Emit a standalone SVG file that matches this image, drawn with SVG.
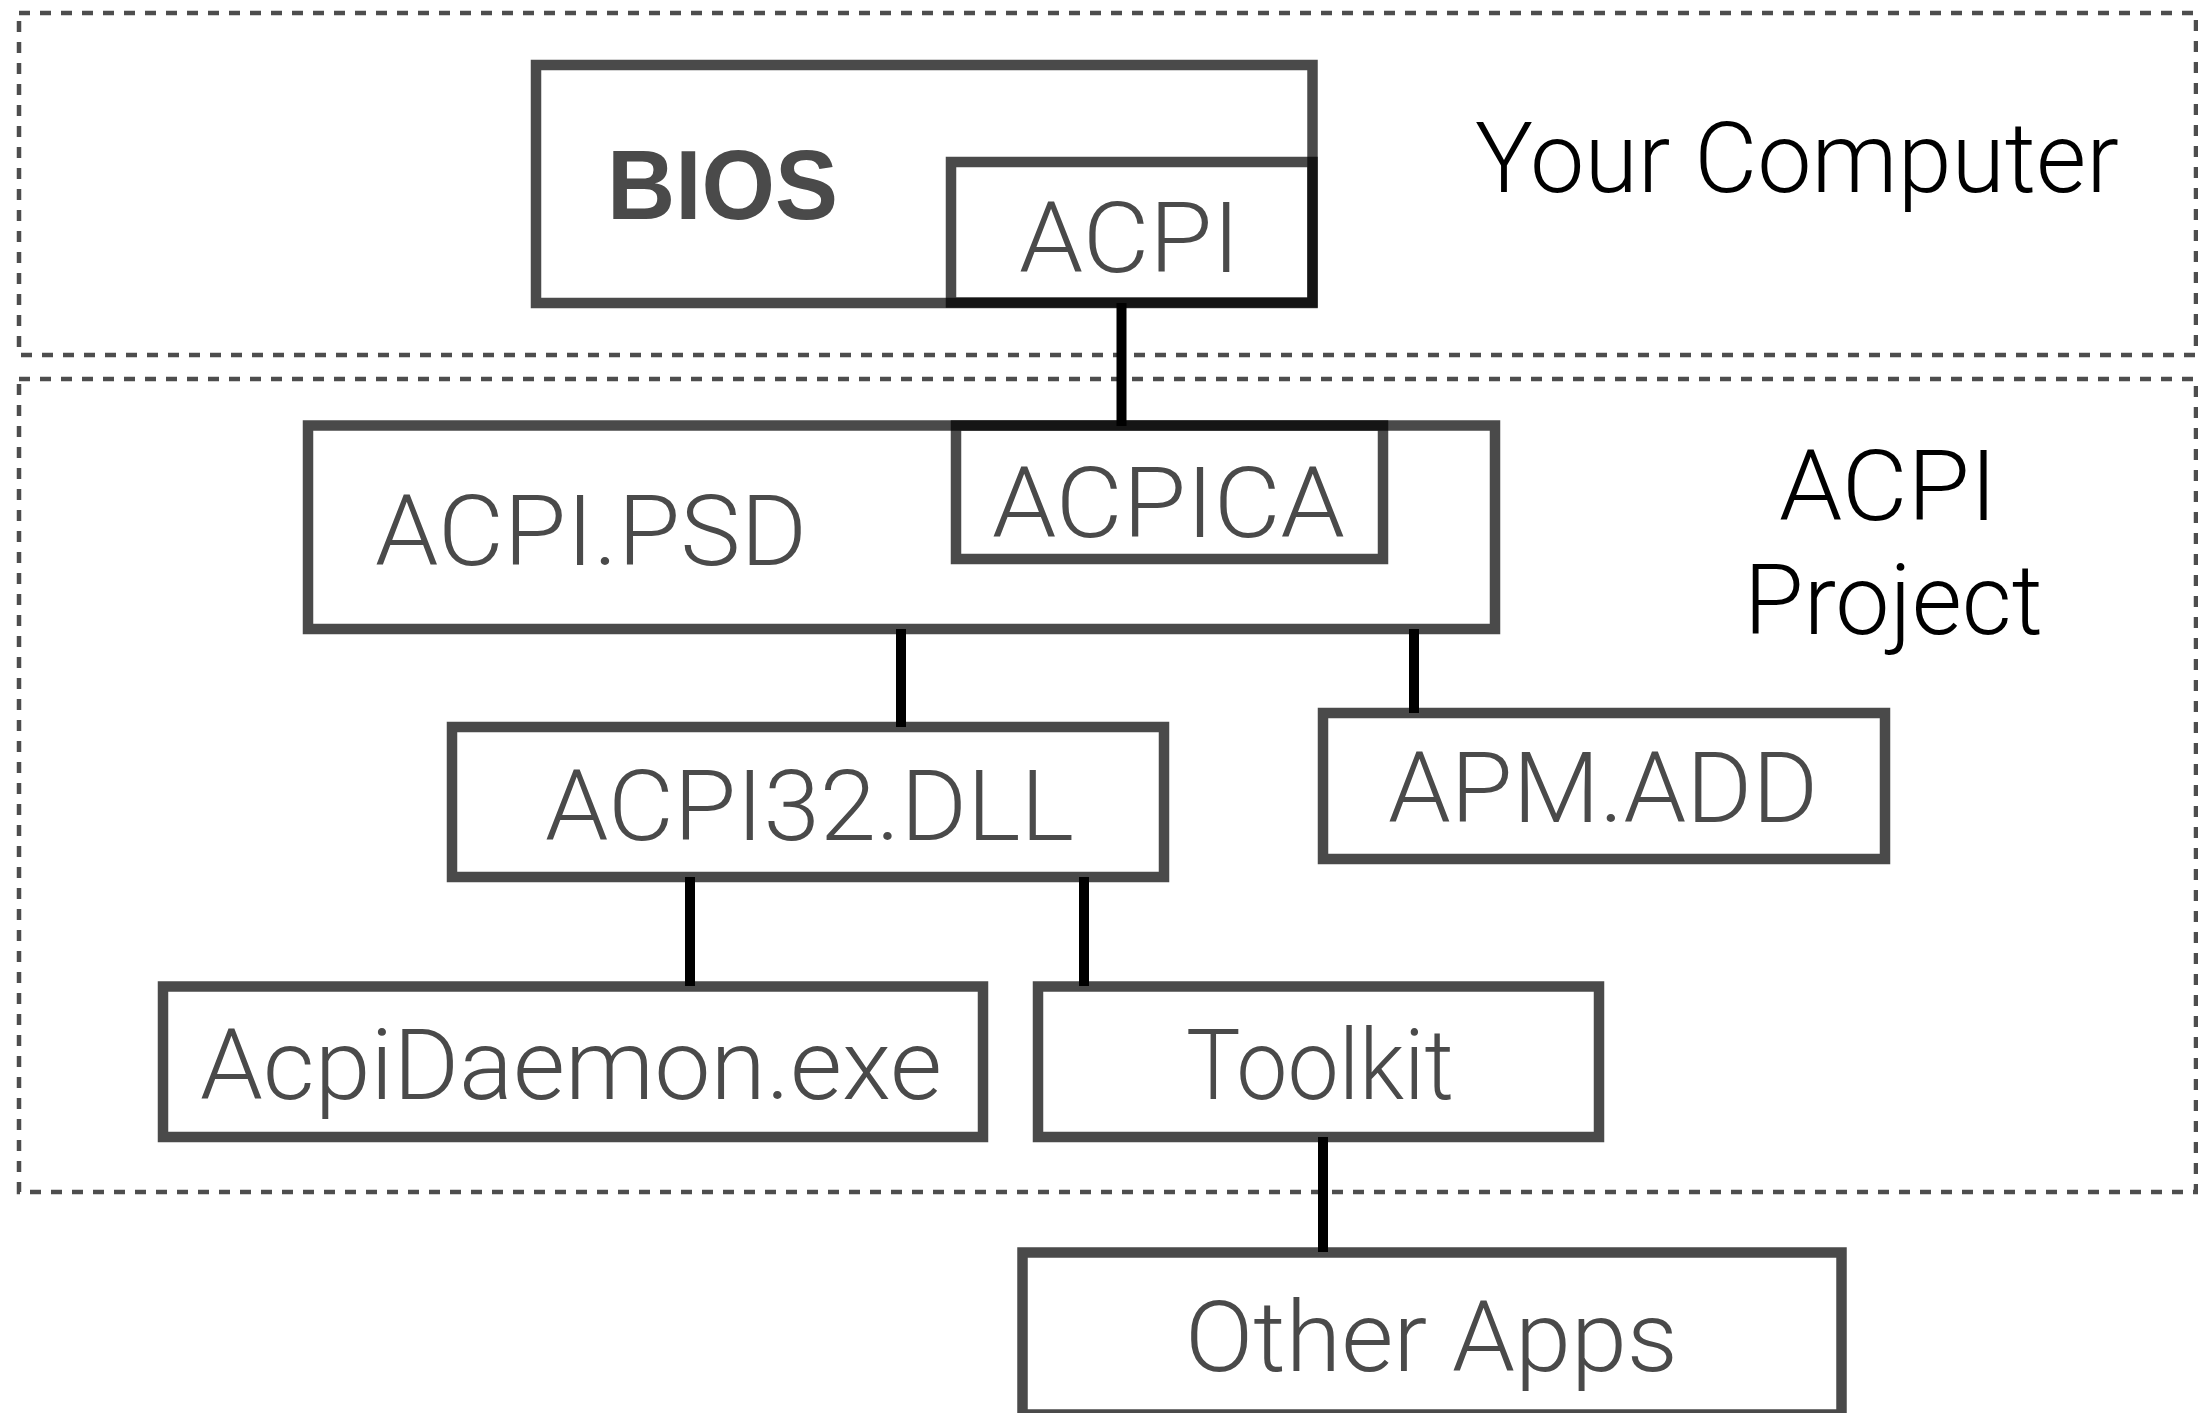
<svg xmlns="http://www.w3.org/2000/svg" width="2198" height="1413" viewBox="0 0 2198 1413">
<style>
.region{fill:none;stroke:#4d4d4d;stroke-width:4.5;stroke-dasharray:11 10}
.box{fill:none;stroke:#000;stroke-opacity:0.71;stroke-width:10.5}
.lbl{font-family:Roboto,"Liberation Sans",Arial,sans-serif;font-weight:300;font-size:98px;fill:#4a4a4a}
.rlbl{font-family:Roboto,"Liberation Sans",Arial,sans-serif;font-weight:300;font-size:98px;fill:#000}
.bold{font-family:"Liberation Sans",Arial,sans-serif;font-weight:bold;font-size:99px;fill:#4a4a4a}
.conn{stroke:#000;stroke-width:10;fill:none}
</style>
<rect width="2198" height="1413" fill="#fff"/>
<g id="region-computer">
<rect class="region" x="19" y="13" width="2177" height="342"/>
<text class="rlbl" x="1475" y="192" textLength="644" lengthAdjust="spacingAndGlyphs">Your Computer</text>
</g>
<g id="region-project">
<rect class="region" x="19" y="379" width="2177" height="813"/>
<text class="rlbl" x="1779" y="520" textLength="218" lengthAdjust="spacingAndGlyphs">ACPI</text>
<text class="rlbl" x="1744" y="634" textLength="299" lengthAdjust="spacingAndGlyphs">Project</text>
</g>
<g id="connectors">
<line class="conn" x1="1121.5" y1="303" x2="1121.5" y2="426"/>
<line class="conn" x1="901" y1="629" x2="901" y2="727"/>
<line class="conn" x1="1414" y1="629" x2="1414" y2="713"/>
<line class="conn" x1="690" y1="877" x2="690" y2="986"/>
<line class="conn" x1="1084" y1="877" x2="1084" y2="986"/>
<line class="conn" x1="1323" y1="1137" x2="1323" y2="1252"/>
</g>
<g id="bios">
<rect class="box" x="536" y="65" width="776.5" height="238"/>
<text class="bold" x="607" y="219" textLength="231" lengthAdjust="spacingAndGlyphs">BIOS</text>
</g>
<g id="acpi">
<rect class="box" x="951" y="162" width="361.5" height="140.5"/>
<text class="lbl" x="1019" y="272" textLength="221" lengthAdjust="spacingAndGlyphs">ACPI</text>
</g>
<g id="acpi-psd">
<rect class="box" x="308" y="425.5" width="1187" height="203.5"/>
<text class="lbl" x="375" y="565" textLength="432" lengthAdjust="spacingAndGlyphs">ACPI.PSD</text>
</g>
<g id="acpica">
<rect class="box" x="956" y="425.5" width="427" height="133.5"/>
<text class="lbl" x="992" y="537" textLength="353" lengthAdjust="spacingAndGlyphs">ACPICA</text>
</g>
<g id="acpi32-dll">
<rect class="box" x="452" y="727" width="712" height="150"/>
<text class="lbl" x="545" y="840" textLength="529" lengthAdjust="spacingAndGlyphs">ACPI32.DLL</text>
</g>
<g id="apm-add">
<rect class="box" x="1323" y="713" width="562" height="146"/>
<text class="lbl" x="1388" y="822" textLength="430" lengthAdjust="spacingAndGlyphs">APM.ADD</text>
</g>
<g id="acpidaemon">
<rect class="box" x="163" y="986.5" width="820" height="150.5"/>
<text class="lbl" x="200" y="1099" textLength="742" lengthAdjust="spacingAndGlyphs">AcpiDaemon.exe</text>
</g>
<g id="toolkit">
<rect class="box" x="1038" y="986.5" width="561" height="150.5"/>
<text class="lbl" x="1186" y="1099" textLength="268" lengthAdjust="spacingAndGlyphs">Toolkit</text>
</g>
<g id="other-apps">
<rect class="box" x="1022.5" y="1252.5" width="819" height="162"/>
<text class="lbl" x="1185" y="1371" textLength="493" lengthAdjust="spacingAndGlyphs">Other Apps</text>
</g>
</svg>
